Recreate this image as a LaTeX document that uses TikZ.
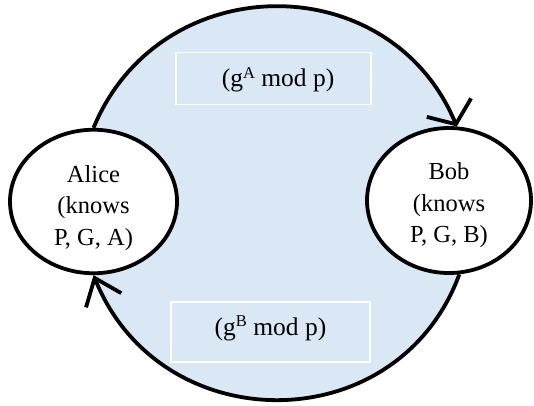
\documentclass[tikz,border=0pt]{standalone}
\usepackage{fontspec}
\setmainfont{Liberation Serif}
\usetikzlibrary{shapes.geometric,arrows.meta,backgrounds}
\definecolor{skyfill}{RGB}{218,231,245}
\newcommand\supx[1]{\raisebox{8.5pt}{\fontsize{16.5}{16}\selectfont #1}}
\begin{document}
\begin{tikzpicture}[x=1pt,y=1pt,
  party/.style={ellipse, draw=black, line width=3.8pt, fill=white, inner sep=0pt,
    font=\fontsize{24.5}{31.5}\selectfont},
  msgbox/.style={rectangle, draw=white, line width=1.2pt, inner sep=0pt,
    font=\fontsize{25.5}{31.5}\selectfont},
  flow/.style={line width=3.8pt}]
\useasboundingbox (0,0) rectangle (534,405);
\node[party, minimum width=167pt, minimum height=143.5pt] (alice) at (93.5,203.5)
  {\raisebox{-6pt}[\height][\depth]{\begin{tabular}{@{}c@{}}Alice\\(knows\\P, G, A)\end{tabular}}};
\node[party, minimum width=164pt, minimum height=145pt] (bob) at (449,204.5)
  {\raisebox{-4.5pt}[\height][\depth]{\begin{tabular}{@{}c@{}}Bob\\(knows\\P, G, B)\end{tabular}}};
\node[msgbox, minimum width=195pt, minimum height=52pt, text height=20pt, text depth=3.2pt]
  (msgA) at (273.5,326.7) {\hspace*{9pt}(g\supx{A} mod p)};
\node[msgbox, minimum width=199pt, minimum height=60pt, text height=12pt, text depth=6pt]
  (msgB) at (270.5,73) {(g\supx{B} mod p)};
\begin{pgfonlayer}{background}
\fill[white] (0,0) rectangle (534,405);
\fill[skyfill] (alice.north) .. controls +(67.5:174) and +(112.7:174) .. (bob.84)
  -- (bob.-82) .. controls +(-110.3:178.5) and +(-68:178.5) .. (alice.south) -- cycle;
\draw[flow, -{Straight Barb[length=18pt,width=48pt]}]
  (alice.north) .. controls +(67.5:174) and +(112.7:174) .. (bob.84);
\draw[flow, -{Straight Barb[length=24pt,width=38pt]}]
  (bob.-82) .. controls +(-110.3:178.5) and +(-68:178.5) .. (alice.south);
\end{pgfonlayer}
\end{tikzpicture}
\end{document}
